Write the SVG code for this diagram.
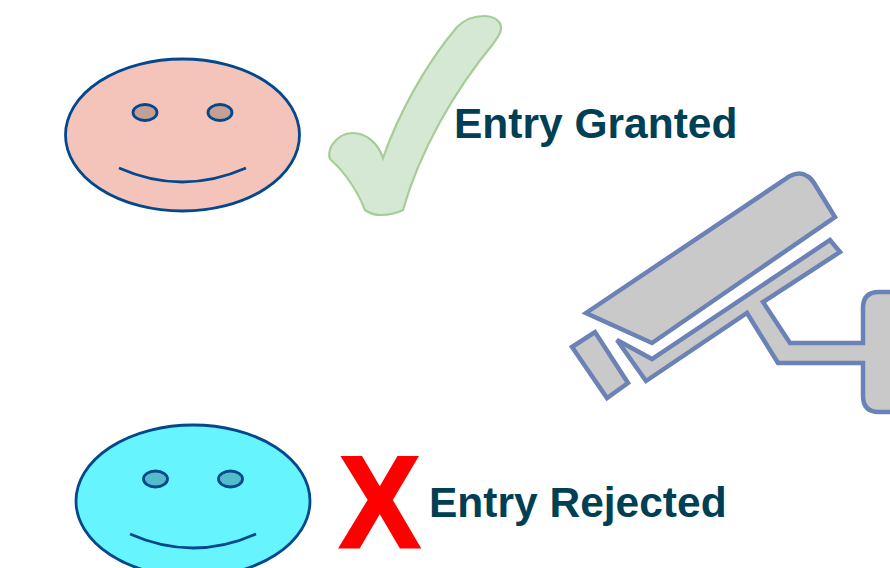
<svg xmlns="http://www.w3.org/2000/svg" width="890" height="568" viewBox="0 0 890 568">
<style>
.face{stroke:#03488c;stroke-width:2.800}
.eye{stroke:#03488c;stroke-width:2.800}
.smile{fill:none;stroke:#03488c;stroke-width:2.800}
.cam{fill:#c9c9c9;stroke:#6a82b5;stroke-width:4.500;stroke-linejoin:miter}
.label{font-family:"Liberation Sans",Arial,sans-serif;font-weight:bold;font-size:42.500px;fill:#003f54}
</style>
<rect width="890" height="568" fill="#fff"/>
<g id="face-granted">
<ellipse class="face" cx="182.500" cy="135" rx="117" ry="76" fill="#f4c4bb"/>
<ellipse class="eye" cx="145" cy="112.500" rx="12" ry="8" fill="#c49f94"/>
<ellipse class="eye" cx="220" cy="112.500" rx="12" ry="8" fill="#c49f94"/>
<path class="smile" d="M119 168Q182 196 246 168"/>
</g>
<g id="check">
<path d="M383 158C398 115 425 65 457 27C465 19 474 16 484 16C494 16 501 21 501 28C501 34 497 38 493 44C455 90 420 150 403 210C395 214 388 215 381 215C375 215 369 213 365 210C358 192 345 172 331 160C328 157 329 150 332 145C338 136 346 133 353 133C366 133 378 143 383 158Z" fill="#d5e8d4" stroke="#a6cc98" stroke-width="2.200"/>
</g>
<g id="text-granted">
<text class="label" x="454" y="138">Entry Granted</text>
</g>
<g id="camera">
<path class="cam" d="M586 313L790 176Q800 171 807 176Q811 178 814 183L835 217L652 343Z"/>
<path class="cam" d="M572 347L595 332L628 383L607 398Z"/>
<path class="cam" d="M617 340L652 359L830 240L840 252L763 302L790 343H863V308Q863 292 879 292H895V412H879Q863 412 863 396V363H778L747 313L646 381Z"/>
</g>
<g id="face-rejected">
<ellipse class="face" cx="193" cy="501" rx="117" ry="76" fill="#66f5ff"/>
<ellipse class="eye" cx="155.500" cy="479" rx="12" ry="8" fill="#52bccb"/>
<ellipse class="eye" cx="230.500" cy="479" rx="12" ry="8" fill="#52bccb"/>
<path class="smile" d="M130 534Q193 562 256 534"/>
</g>
<g id="cross">
<text transform="translate(339.500 546.500) scale(0.9 0.97)" font-family="Liberation Sans,Arial,sans-serif" font-weight="bold" font-size="134" fill="#ff0000" stroke="#ff0000" stroke-width="3">X</text>
</g>
<g id="text-rejected">
<text class="label" x="429" y="517">Entry Rejected</text>
</g>
</svg>
